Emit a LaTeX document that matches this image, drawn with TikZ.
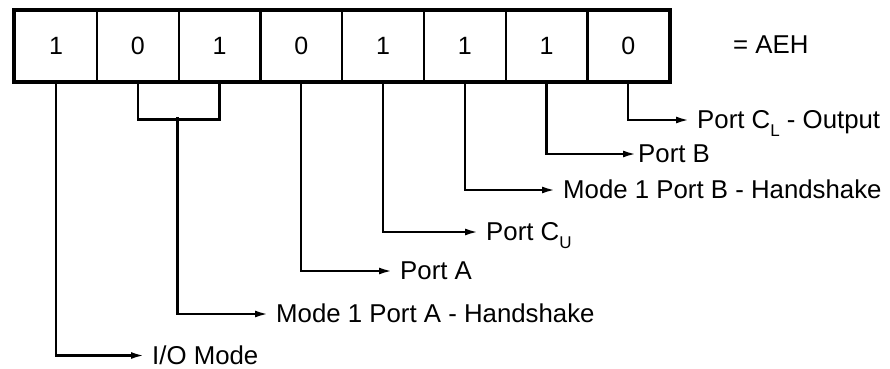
\documentclass[tikz,border=0pt]{standalone}
\usepackage{fontspec}
\setmainfont{Liberation Sans}
\usetikzlibrary{arrows.meta}
\newcommand{\subL}[1]{\raisebox{-8pt}{\fontsize{17}{17}\selectfont #1}}
\begin{document}
\begin{tikzpicture}[x=1pt,y=-1pt,
  bitcell/.style={draw, line width=2.4pt, minimum width=81.75pt, minimum height=70pt, inner sep=0pt, anchor=north west, font=\fontsize{25}{25}\selectfont},
  wire/.style={line width=2.2pt},
  arr/.style={line width=2.2pt, -{Latex[length=13pt,width=7pt]}, shorten >=8pt},
  lbl/.style={anchor=west, inner sep=0pt, text height=17.5pt, text depth=0pt, font=\fontsize{25.8}{28}\selectfont}]
\useasboundingbox (0,0) rectangle (890,368);
% register cells
\node[bitcell] (b7) at (14,10) {1};
\node[bitcell] (b6) at (95.75,10) {0};
\node[bitcell] (b5) at (177.5,10) {1};
\node[bitcell] (b4) at (259.25,10) {0};
\node[bitcell] (b3) at (341,10) {1};
\node[bitcell] (b2) at (422.75,10) {1};
\node[bitcell] (b1) at (504.5,10) {1};
\node[bitcell] (b0) at (586.25,10) {0};
\draw[line width=3.8pt] (b7.north west) rectangle (b0.south east);
\node[lbl] (hex) at (733,45) {= AEH};
% labels
\node[lbl] (cl)  at (697,120) {Port C\subL{L} - Output};
\node[lbl] (pb)  at (638,154) {Port B};
\node[lbl] (mpb) at (563,190) {Mode 1 Port B - Handshake};
\node[lbl] (cu)  at (486,232) {Port C\subL{U}};
\node[lbl] (pa)  at (400,271) {Port A};
\node[lbl] (mpa) at (276,314) {Mode 1 Port A - Handshake};
\node[lbl] (io)  at (152,355.5) {I/O Mode};
% connectors
\draw[arr] (b0.south) |- (cl.west);
\draw[arr, shorten >=2pt] (b1.south) |- (pb.west);
\draw[arr] (b2.south) |- (mpb.west);
\draw[arr] (b3.south) |- (cu.west);
\draw[arr] (b4.south) |- (pa.west);
\draw[wire] (b6.south) -- ++(0,37) -| (b5.south);
\coordinate (br) at (177.5,117);
\draw[arr] (br) |- (mpa.west);
\draw[arr] (b7.south) |- (io.west);
\end{tikzpicture}
\end{document}
